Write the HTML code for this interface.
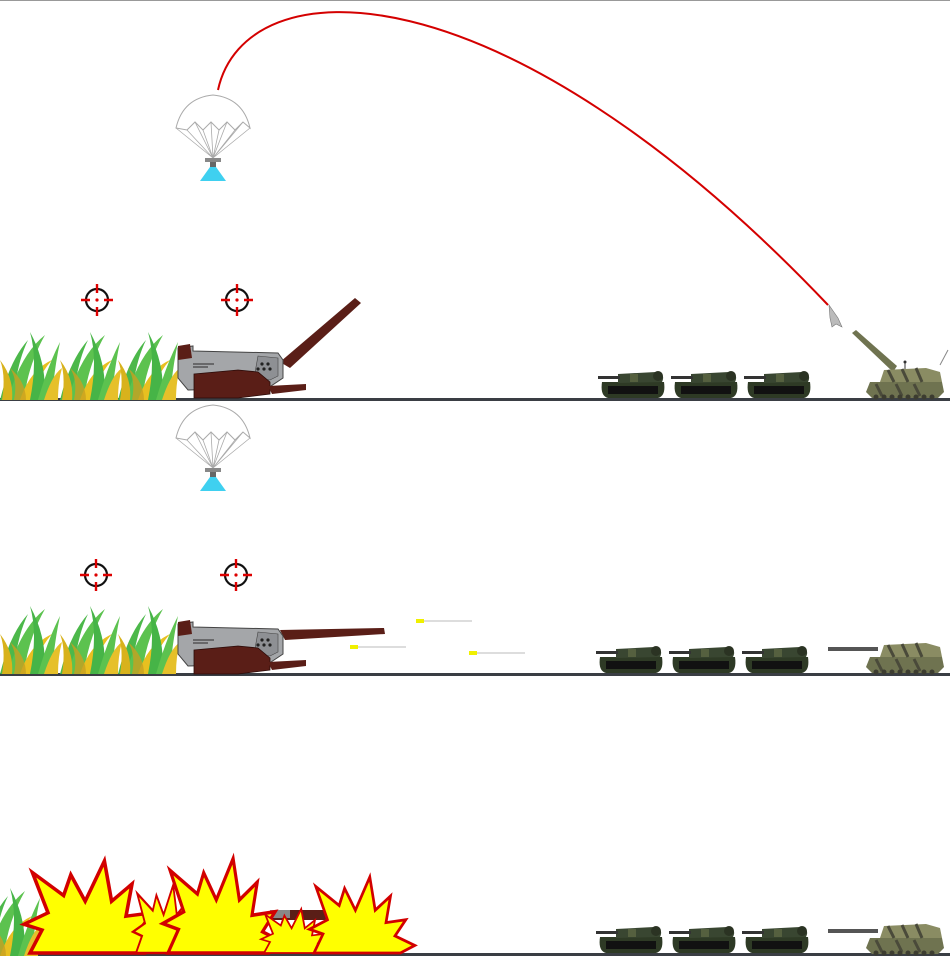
<!DOCTYPE html>
<html><head><meta charset="utf-8"><style>
html,body{margin:0;padding:0;background:#fff;}
svg{display:block;}
</style></head><body>
<svg width="950" height="960" viewBox="0 0 950 960" xmlns="http://www.w3.org/2000/svg">
<defs>
  <g id="grass">
    <path d="M0,70 Q10,30 28,10 Q16,35 14,70Z" fill="#4cb84a"/>
    <path d="M8,70 Q20,25 45,5 Q28,35 24,70Z" fill="#5cc24f"/>
    <path d="M20,70 Q30,40 52,30 Q36,48 34,70Z" fill="#e8c020"/>
    <path d="M30,70 Q38,30 30,2 Q48,35 44,70Z" fill="#46b447"/>
    <path d="M38,70 Q48,35 60,12 Q54,40 52,70Z" fill="#5cc24f"/>
    <path d="M2,70 Q6,45 0,30 Q14,48 12,70Z" fill="#d8b21c"/>
    <path d="M44,70 Q52,45 62,38 Q58,52 58,70Z" fill="#e6c02a"/>
    <path d="M14,70 Q18,50 10,38 Q26,52 26,70Z" fill="#c8a020" opacity=".8"/>
  </g>
  <g id="cross">
    <circle r="11" fill="none" stroke="#111" stroke-width="2.2"/>
    <path d="M0,-16V-7M0,7V16M-16,0H-7M7,0H16" stroke="#d00" stroke-width="2.4"/>
    <circle r="1.6" fill="#d00"/>
  </g>
  <g id="para">
    <path d="M-37,0 Q-30,-30 0,-33 Q30,-30 37,0 L30,-6 L22,2 L14,-6 L6,2 L-2,-6 L-10,2 L-18,-6 L-26,2Z" fill="#fff" stroke="#aaa" stroke-width="1"/>
    <path d="M-37,0 L0,30 M-26,2 L0,30 M-18,-6 L0,30 M-10,2 L0,30 M-2,-6 L0,30 M6,2 L0,30 M14,-6 L0,30 M22,2 L0,30 M30,-6 L0,30 M37,0 L0,30" stroke="#aaa" stroke-width=".8" fill="none"/>
    <rect x="-8" y="30" width="16" height="4" fill="#888"/>
    <rect x="-3" y="34" width="6" height="5" fill="#666"/>
    <path d="M-3,39 L3,39 L13,53 L-13,53Z" fill="#3fd0f0"/>
  </g>
  <g id="mech">
    <path d="M0,0 L15,-2 L15,3 L100,5 L105,12 L105,30 L90,40 L10,42 L0,30Z" fill="#a4a6a9" stroke="#444" stroke-width="1"/>
    <path d="M0,-2 L12,-4 L14,10 L0,12Z" fill="#5a1e17"/>
    <path d="M80,8 L100,10 L100,28 L92,32 L76,30Z" fill="#8e9094" stroke="#444" stroke-width=".6"/>
    <circle cx="84" cy="16" r="1.6" fill="#222"/><circle cx="90" cy="16" r="1.6" fill="#222"/><circle cx="86" cy="21" r="1.6" fill="#222"/><circle cx="92" cy="21" r="1.6" fill="#222"/><circle cx="80" cy="21" r="1.6" fill="#222"/>
    <path d="M15,16 H36 M15,19 H30" stroke="#444" stroke-width="1.2"/>
    <path d="M16,26 L60,22 L80,24 L92,34 L92,46 L60,50 L16,50Z" fill="#5a1e17" stroke="#2a0a08" stroke-width=".8"/>
    <path d="M90,38 L128,36 L128,42 L94,46Z" fill="#5a1e17"/>
  </g>
  <g id="tank">
    <path d="M2,12 Q0,26 8,28 H58 Q66,26 64,12Z" fill="#2e3a25"/>
    <path d="M8,16 H58 V24 H8Z" fill="#111"/>
    <path d="M18,4 L56,2 Q66,4 62,12 L18,13Z" fill="#394631"/>
    <rect x="-2" y="6" width="22" height="3" fill="#333"/>
    <circle cx="58" cy="6" r="5" fill="#2b3323"/>
    <path d="M30,4 h8 v8 h-8z" fill="#55603f"/>
  </g>
  <g id="spg">
    <path d="M0,32 L4,22 L76,22 L78,32 L72,38 L6,38Z" fill="#6f7350"/>
    <path d="M18,10 L60,8 L74,12 L76,22 L14,22Z" fill="#8a8c63"/>
    <path d="M22,10 L28,22 M36,9 L42,22 M50,8 L56,22 M10,24 L16,36 M30,24 L36,36 M48,24 L54,36" stroke="#4a4a3a" stroke-width="3"/>
    <g fill="#3c3c30"><circle cx="10" cy="37" r="2.5"/><circle cx="18" cy="37" r="2.5"/><circle cx="26" cy="37" r="2.5"/><circle cx="34" cy="37" r="2.5"/><circle cx="42" cy="37" r="2.5"/><circle cx="50" cy="37" r="2.5"/><circle cx="58" cy="37" r="2.5"/><circle cx="66" cy="37" r="2.5"/></g>
  </g>
  <path id="boomp" d="M-40,0 L-30,-20 L-45,-25 L-25,-35 L-38,-70 L-12,-50 L-6,-68 L6,-45 L22,-80 L28,-45 L45,-60 L40,-32 L62,-35 L50,-18 L72,-8 L56,0Z" fill="#ffff00" stroke="#d20000" stroke-width="3" stroke-linejoin="miter"/>
</defs>

<rect width="950" height="960" fill="#fff"/>
<line x1="0" y1="0.5" x2="950" y2="0.5" stroke="#999" stroke-width="1"/>

<rect x="0" y="398" width="950" height="3" fill="#3a3e44"/>
<rect x="0" y="673" width="950" height="3" fill="#3a3e44"/>
<rect x="0" y="953" width="950" height="3" fill="#3a3e44"/>

<path d="M218,90 C245,-35 500,-40 828,305" fill="none" stroke="#d40000" stroke-width="2"/>
<path d="M829,305 L838,318 L842,327 L836,324 L832,327 L830,318Z" fill="#bbb" stroke="#777" stroke-width=".6"/>

<!-- Row 1 -->
<use href="#para" x="213" y="128"/>
<use href="#cross" x="97" y="300"/>
<use href="#cross" x="237" y="300"/>
<use href="#grass" x="0" y="330"/><use href="#grass" x="60" y="330"/><use href="#grass" x="118" y="330"/>
<path d="M280,362 L355,298 L361,303 L290,368Z" fill="#5a1e17"/>
<use href="#mech" x="178" y="348"/>
<use href="#tank" x="600" y="370"/><use href="#tank" x="673" y="370"/><use href="#tank" x="746" y="370"/>
<path d="M893,372 L852,333 L856,330 L897,366Z" fill="#6f7350"/>
<line x1="905" y1="363" x2="905" y2="372" stroke="#333"/><circle cx="905" cy="362" r="1.5" fill="#333"/>
<line x1="940" y1="365" x2="948" y2="350" stroke="#888"/>
<use href="#spg" x="866" y="360"/>

<!-- Row 2 -->
<use href="#para" x="213" y="438"/>
<use href="#cross" x="96" y="575"/>
<use href="#cross" x="236" y="575"/>
<use href="#grass" x="0" y="604"/><use href="#grass" x="60" y="604"/><use href="#grass" x="118" y="604"/>
<path d="M280,630 L384,628 L385,634 L285,640Z" fill="#5a1e17"/>
<use href="#mech" x="178" y="624"/>
<rect x="416" y="619" width="8" height="4" fill="#f0f000"/><path d="M424,621 H472" stroke="#ddd" stroke-width="2"/>
<rect x="350" y="645" width="8" height="4" fill="#f0f000"/><path d="M358,647 H406" stroke="#ddd" stroke-width="2"/>
<rect x="469" y="651" width="8" height="4" fill="#f0f000"/><path d="M477,653 H525" stroke="#ddd" stroke-width="2"/>
<use href="#tank" x="598" y="645"/><use href="#tank" x="671" y="645"/><use href="#tank" x="744" y="645"/>
<rect x="828" y="647" width="50" height="4" fill="#555"/>
<use href="#spg" x="866" y="635"/>

<!-- Row 3 -->
<use href="#grass" x="-20" y="886"/>
<rect x="270" y="910" width="115" height="10" fill="#5a1e17"/>
<rect x="270" y="910" width="20" height="8" fill="#888"/>
<g transform="translate(78 953) scale(1.2 1.15)"><use href="#boomp"/></g>
<g transform="translate(160 953) scale(.6 .85)"><use href="#boomp"/></g>
<g transform="translate(210 953) scale(1.05 1.18)"><use href="#boomp"/></g>
<g transform="translate(288 953) scale(.6 .55)"><use href="#boomp"/></g>
<g transform="translate(350 953) scale(.9 .95)"><use href="#boomp"/></g>
<use href="#tank" x="598" y="925"/><use href="#tank" x="671" y="925"/><use href="#tank" x="744" y="925"/>
<rect x="828" y="929" width="50" height="4" fill="#555"/>
<use href="#spg" x="866" y="916"/>
</svg>
</body></html>
